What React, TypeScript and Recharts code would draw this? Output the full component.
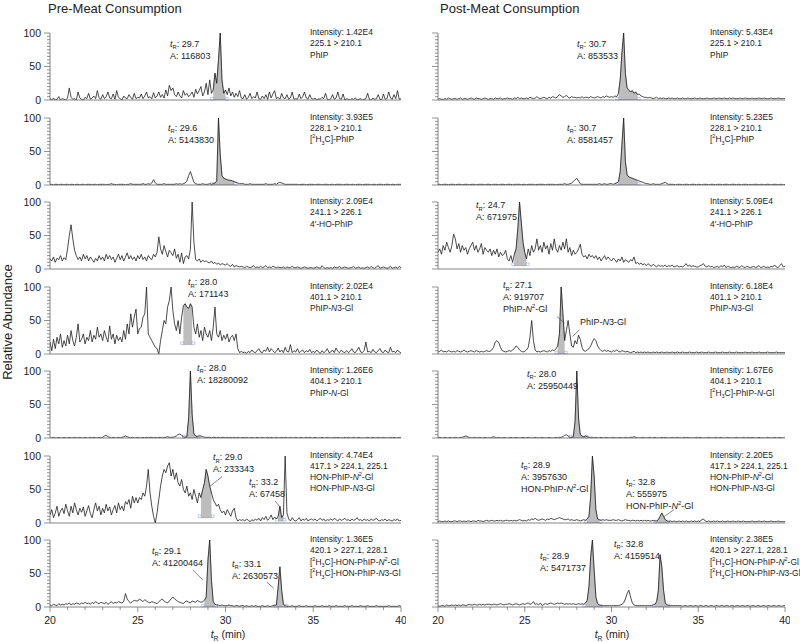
import React from 'react';
import { ComposedChart, Line, Area, XAxis, YAxis, ReferenceLine, ReferenceArea } from 'recharts';

const FONT = '"Liberation Sans", Arial, sans-serif';

// sampling grid: 20.0 .. 40.0 min, 0.1 min step
const TIMES: number[] = Array.from({ length: 201 }, (_, i) => Math.round((20 + i * 0.1) * 10) / 10);
const X_TICKS = [20, 21, 22, 23, 24, 25, 26, 27, 28, 29, 30, 31, 32, 33, 34, 35, 36, 37, 38, 39, 40];
const Y_TICKS = [0, 5, 10, 15, 20, 25, 30, 35, 40, 45, 50, 55, 60, 65, 70, 75, 80, 85, 90, 95, 100];

// ---------- Pre-Meat traces (relative abundance, %) ----------
const PRE_PHIP = [
  2,0,3,0,1,5,0,2,1,0, 3,18,4,1,2,0,12,3,1,0, 4,2,10,1,3,6,2,14,3,1, 8,2,5,12,3,2,9,1,14,4,
  2,0,6,3,2,8,4,1,10,2, 4,3,9,2,6,12,3,5,2,11, 3,6,12,4,8,3,15,6,22,14, 18,8,5,12,6,3,14,7,10,5,
  8,12,4,16,9,14,20,6,12,25, 8,30,10,15,40,25,60,100,30,10, 15,8,18,6,12,4,10,5,14,3, 2,8,1,4,10,2,5,3,12,2,
  1,6,2,8,1,12,3,9,14,2, 4,1,10,3,2,8,1,3,12,1, 2,1,9,2,5,12,3,1,8,2, 1,3,0,2,1,4,2,10,1,0,
  2,8,1,3,12,2,1,9,0,2, 1,0,2,1,3,0,1,2,0,1, 2,10,1,0,3,1,2,8,1,0, 9,1,2,12,3,1,8,2,14,1, 2,
];
const PRE_D3PHIP = [
  1,1,0,1,1,0,1,1,0,1, 1,0,1,1,0,1,1,0,1,1, 0,1,1,1,0,1,1,0,1,1, 1,1,0,1,1,2,1,1,0,1,
  1,1,1,0,1,1,2,1,1,1, 1,1,1,2,1,1,2,1,3,8, 3,1,1,1,1,2,1,1,1,1, 1,1,2,1,2,1,2,3,6,14,
  20,12,4,2,1,1,1,2,1,1, 1,2,1,2,3,6,100,45,14,10, 9,8,7,7,6,5,4,3,2,2, 2,1,1,1,2,1,1,1,1,1,
  1,1,1,2,1,1,1,1,2,1, 3,4,3,2,1,1,1,1,1,1, 1,1,0,1,1,1,0,1,1,1, 1,0,1,1,1,0,1,1,1,0,
  1,1,0,1,1,1,1,0,1,1, 1,0,1,1,0,1,1,1,0,1, 1,1,1,0,1,1,0,1,1,1, 0,1,1,1,0,1,1,0,1,1, 1,
];
const PRE_HO = [
  15,12,18,10,16,14,20,12,17,14, 30,50,66,45,28,20,14,18,12,22, 15,20,12,18,14,10,16,12,20,14, 18,12,22,15,20,14,18,10,16,22,
  14,20,12,18,24,15,20,14,18,12, 20,15,22,14,18,12,20,16,14,22, 18,25,48,30,22,35,26,18,28,24, 20,30,16,22,10,24,8,18,20,15,
  30,100,40,14,12,15,10,13,11,12, 10,9,12,8,10,7,9,6,8,7, 6,8,5,4,7,3,5,4,3,4, 3,2,4,3,2,3,5,2,3,2,
  4,2,3,5,2,3,2,4,3,2, 3,2,2,3,1,3,2,2,4,2, 2,3,2,1,2,3,2,1,2,2, 1,2,3,2,1,5,2,1,2,1,
  2,1,3,2,2,4,1,2,3,2, 1,2,2,4,1,2,3,1,2,1, 2,3,1,4,2,1,3,5,1,2, 3,2,1,2,4,1,2,3,1,4, 2,
];
const PRE_N3 = [
  18,5,22,8,25,15,30,10,20,12, 28,15,35,20,12,25,45,18,22,30, 15,25,20,35,18,28,22,40,25,30, 20,35,25,18,42,22,30,15,28,20,
  25,18,35,22,45,30,60,40,55,67, 30,38,40,55,60,100,30,25,20,15, 10,8,0,20,35,50,45,70,80,100, 65,45,35,50,30,55,72,75,70,68,
  75,70,40,30,45,25,35,20,40,30, 25,35,20,40,70,30,25,35,20,28, 22,30,18,25,28,20,30,8,2,4, 2,3,1,4,2,6,3,2,5,8,
  3,2,6,4,10,3,8,5,2,4, 9,3,6,2,10,4,3,14,2,5, 3,8,2,4,6,2,5,3,7,2, 4,2,6,3,1,5,2,4,8,2,
  3,6,2,9,4,2,6,3,2,5, 2,4,8,3,2,6,10,3,2,5, 18,3,4,2,7,3,2,5,8,3, 2,6,3,2,10,3,4,2,6,3, 2,
];
const PRE_NGL = [
  0,0,1,0,0,1,0,0,1,0, 0,1,0,0,1,0,0,1,0,0, 1,0,0,1,0,1,0,0,1,0, 1,3,4,2,1,0,1,0,0,1,
  0,1,2,3,2,1,0,1,0,0, 1,0,0,1,0,1,0,1,1,0, 1,0,1,1,0,1,1,2,1,1, 1,2,3,5,6,4,2,1,2,30,
  100,35,6,3,2,3,3,2,1,1, 1,1,0,1,1,0,1,0,1,1, 0,1,0,1,0,1,0,1,0,0, 1,0,1,0,0,1,0,0,1,0,
  0,1,0,0,1,0,1,0,0,1, 0,0,1,0,1,0,0,1,0,0, 1,0,0,1,0,0,1,0,1,0, 0,1,0,0,0,1,0,0,1,0,
  0,0,1,0,1,0,0,0,1,0, 1,0,0,1,0,0,1,0,0,0, 0,1,0,0,1,0,0,1,0,0, 1,0,0,0,1,0,1,0,0,1, 0,
];
const PRE_HON = [
  12,20,8,15,25,10,18,22,14,28, 18,10,25,15,30,20,12,22,16,24, 10,18,26,14,8,20,30,18,25,12, 22,15,28,18,24,12,20,26,15,30,
  20,25,18,32,28,35,22,40,30,38, 30,38,35,45,40,55,80,45,25,10, 0,15,35,55,70,80,75,85,90,70, 80,65,75,60,55,65,50,45,55,40,
  45,35,50,40,30,45,38,50,60,80, 70,55,45,35,30,25,28,20,15,18, 12,20,15,10,18,22,8,3,5,4, 5,3,6,4,2,5,3,6,4,7,
  3,8,5,10,4,7,12,5,9,6, 10,25,8,12,100,15,6,3,8,4, 3,5,8,3,6,4,7,3,5,6, 4,6,3,5,7,4,6,3,5,4,
  6,4,7,5,3,6,4,5,7,4, 5,3,6,4,5,8,4,5,3,6, 4,5,3,6,4,5,7,4,3,5, 4,6,3,5,4,3,5,4,6,3, 4,
];
const PRE_D3HON = [
  3,2,4,3,2,5,3,4,3,5, 4,6,3,5,4,6,5,4,6,5, 7,5,6,4,7,5,8,6,5,7, 6,5,7,4,6,8,5,7,6,8,
  7,6,8,20,12,8,6,8,10,9, 9,12,10,8,11,9,7,6,8,7, 6,5,8,10,12,9,7,6,9,12, 15,12,10,8,7,6,5,8,9,7,
  6,9,8,7,10,8,7,8,10,15, 70,100,40,8,4,3,3,2,3,2, 2,2,3,2,2,1,2,2,1,2, 2,1,2,1,1,2,1,2,1,1,
  1,2,1,1,2,1,1,2,2,3, 30,60,25,4,2,1,1,1,2,1, 1,1,2,1,1,1,2,1,1,1, 1,2,1,1,1,2,1,1,1,2,
  1,1,1,2,1,1,1,1,2,1, 1,1,2,1,1,1,1,2,1,1, 1,2,1,1,1,1,2,1,1,1, 1,1,1,2,1,1,1,1,1,2, 1,
];

// ---------- Post-Meat traces ----------
const POST_PHIP = [
  1,2,1,1,2,1,3,2,1,2, 2,1,2,3,1,2,2,1,2,3, 2,1,3,2,2,1,2,3,2,1, 2,2,1,3,2,2,3,1,2,2,
  3,2,2,1,3,2,4,2,3,2, 2,3,2,4,3,2,3,5,3,2, 3,4,3,2,4,3,5,4,3,5, 8,6,4,5,7,4,3,5,4,4,
  3,4,3,5,3,4,4,3,5,4, 3,4,5,4,3,5,4,6,5,4, 5,4,6,5,10,30,70,100,40,18, 15,12,14,10,12,8,9,6,5,4,
  4,3,4,3,2,3,4,2,3,2, 3,2,2,3,2,3,2,2,3,2, 2,3,2,2,3,2,2,2,3,2, 2,3,2,2,2,3,2,2,2,3,
  2,2,3,2,2,3,2,2,3,2, 3,2,2,2,3,2,2,3,2,2, 2,3,2,2,2,3,2,2,3,2, 2,2,3,2,2,2,3,2,2,2, 2,
];
const POST_D3PHIP = [
  1,1,0,1,1,1,0,1,1,1, 0,1,1,1,0,1,1,1,0,1, 1,1,0,1,1,1,1,0,1,1, 1,0,1,1,1,0,1,1,1,0,
  1,1,1,0,1,1,1,1,0,1, 1,0,1,1,1,1,0,1,1,1, 1,1,0,1,1,1,1,1,0,1, 1,1,1,2,1,1,2,3,5,8,
  10,6,2,1,1,1,1,1,1,1, 1,1,1,2,1,1,2,1,1,2, 2,1,2,3,5,20,60,100,35,15, 12,11,10,9,8,7,6,5,4,3,
  2,2,1,1,2,1,1,1,1,2, 3,4,2,1,1,1,1,0,1,1, 1,0,1,1,1,0,1,1,1,0, 1,1,0,1,1,1,0,1,1,1,
  0,1,1,1,0,1,1,1,0,1, 1,1,0,1,1,0,1,1,1,0, 1,0,1,1,1,0,1,1,0,1, 1,1,0,1,1,1,0,1,1,0, 1,
];
const POST_HO = [
  25,30,22,35,28,40,32,25,35,52, 45,30,38,25,35,28,32,22,30,35, 40,28,35,25,30,38,22,32,28,25, 30,20,28,22,30,18,25,20,22,28,
  15,12,20,10,22,30,60,100,70,40, 25,15,30,20,35,25,30,45,28,35, 25,40,30,35,22,38,28,45,30,25, 35,28,40,30,45,25,32,20,28,22,
  25,30,37,22,18,20,15,22,18,20, 16,20,14,18,12,16,20,14,18,15, 12,16,14,10,15,12,18,10,14,12, 10,14,12,18,8,10,7,9,6,8,
  5,8,6,4,7,5,3,6,4,5, 4,6,3,5,4,6,3,4,5,3, 4,3,5,8,4,6,3,5,4,3, 3,5,6,8,4,3,5,3,4,2,
  3,4,2,5,3,6,2,4,3,2, 3,2,4,3,2,5,3,2,4,3, 2,3,4,2,3,5,2,3,4,2, 3,2,4,3,6,3,2,5,8,3, 4,
];
const POST_N3 = [
  3,4,6,3,4,3,5,4,3,4, 3,5,4,3,4,6,4,3,4,5, 4,3,5,4,3,4,3,4,5,4, 4,6,10,18,20,17,10,5,4,3,
  4,5,4,6,8,12,10,6,4,3, 4,6,10,25,50,20,6,3,4,3, 4,5,4,3,5,4,6,5,8,12, 30,100,60,20,35,50,30,12,10,20,
  15,28,22,10,5,4,6,8,12,18, 23,20,12,8,5,4,6,4,5,4, 3,5,4,6,4,3,5,4,3,4, 3,2,3,4,2,3,2,3,2,3,
  2,3,2,2,3,2,3,2,2,3, 2,2,3,2,2,3,2,2,3,2, 2,3,2,2,2,3,2,2,2,3, 2,2,3,2,2,2,3,2,2,2,
  3,2,2,2,3,2,2,2,3,2, 2,2,3,2,2,2,2,3,2,2, 2,3,2,2,2,3,2,2,2,2, 3,2,2,2,2,3,2,2,2,2, 2,
];
const POST_NGL = [
  0,1,0,0,1,0,0,1,0,0, 1,0,0,1,1,2,3,2,1,0, 0,1,0,0,1,0,0,1,0,0, 0,1,2,1,0,1,0,0,1,0,
  0,0,1,0,0,1,0,0,0,1, 0,0,1,0,0,0,1,0,0,0, 1,0,0,0,1,0,0,0,1,0, 1,1,2,4,5,3,1,1,2,25,
  100,30,5,3,2,3,2,1,1,1, 0,1,0,0,1,0,0,1,0,0, 0,1,0,0,0,1,0,0,1,0, 0,1,1,2,1,0,0,0,1,0,
  0,0,1,0,0,1,0,0,0,1, 0,1,0,0,0,1,0,0,1,0, 0,0,1,0,1,0,0,0,0,1, 0,1,0,0,0,0,1,0,0,0,
  1,0,0,1,0,0,0,1,0,0, 0,0,1,0,0,0,1,0,0,1, 0,1,0,0,0,1,0,0,0,0, 1,0,0,0,1,0,0,1,0,0, 0,
];
const POST_HON = [
  2,3,2,2,3,2,3,2,2,3, 3,2,3,3,2,3,2,3,3,2, 3,3,2,4,3,3,2,3,4,3, 3,4,3,3,4,3,4,3,3,4,
  4,3,4,3,4,3,4,5,4,3, 4,3,5,4,6,5,7,5,4,5, 6,5,4,6,5,7,6,5,6,7, 8,7,6,5,5,6,4,5,4,4,
  5,4,3,4,5,4,6,10,40,100, 70,20,6,5,4,5,4,5,4,4, 4,5,4,4,5,4,3,4,5,4, 4,3,4,4,3,4,3,4,3,4,
  3,4,3,3,4,3,3,5,10,15, 10,5,3,2,3,2,3,2,2,3, 2,3,2,3,2,2,3,2,3,2, 3,2,5,6,3,2,3,2,2,3,
  2,3,2,2,3,2,2,3,2,2, 3,2,2,3,2,2,3,2,2,2, 2,3,2,2,2,3,2,2,3,2, 2,2,3,2,2,2,3,2,2,2, 2,
];
const POST_D3HON = [
  2,1,2,2,1,3,2,2,3,2, 3,2,3,2,3,3,2,3,4,3, 3,4,3,3,4,3,4,3,4,4, 4,3,4,4,3,4,5,4,3,4,
  4,5,4,3,4,5,4,3,4,5, 4,5,6,4,5,8,4,5,3,6, 2,4,5,4,5,6,5,4,5,6, 5,6,5,4,5,4,5,4,5,4,
  4,5,4,5,4,6,10,30,75,100, 55,15,5,3,2,2,2,2,2,2, 2,2,2,2,2,3,4,6,12,20, 25,15,6,3,2,2,2,2,2,2,
  2,2,2,2,3,4,8,25,78,60, 25,6,3,2,2,2,2,2,2,2, 2,1,2,2,1,2,2,1,2,2, 1,2,2,1,2,2,1,2,2,1,
  2,2,1,2,2,1,2,2,1,2, 2,1,2,2,1,2,2,1,2,2, 1,2,2,1,2,2,1,2,2,1, 2,2,1,2,2,1,2,2,1,2, 2,
];

// ---------- layout ----------
const ROW_TOP = [33, 117.5, 202, 286.5, 371, 455.5, 540];
const PLOT_H = 67;
const TR = (v: string) => `{i:t}{sub:R}: ${v}`;

type Peak = { from: number; to: number; base: number };
type Tag = { x: number; y: number; lines: string[] };
type Seg = [{ x: number; y: number }, { x: number; y: number }];
type Cfg = { col: number; row: number; values: number[]; peaks: Peak[]; info: string[]; tags: Tag[]; leaders: Seg[] };

const PANELS: Cfg[] = [
  { col: 0, row: 0, values: PRE_PHIP, peaks: [{ from: 29.3, to: 30.0, base: 0 }],
    info: ['Intensity: 1.42E4', '225.1 > 210.1', 'PhIP'],
    tags: [{ x: 170, y: 46.5, lines: [TR('29.7'), 'A: 116803'] }], leaders: [] },
  { col: 1, row: 0, values: POST_PHIP, peaks: [{ from: 30.4, to: 31.5, base: 0 }],
    info: ['Intensity: 5.43E4', '225.1 > 210.1', 'PhIP'],
    tags: [{ x: 577, y: 46.5, lines: [TR('30.7'), 'A: 853533'] }], leaders: [] },
  { col: 0, row: 1, values: PRE_D3PHIP, peaks: [{ from: 29.3, to: 30.5, base: 0 }],
    info: ['Intensity: 3.93E5', '228.1 > 210.1', '[{sup:2}H{sub:3}C]-PhIP'],
    tags: [{ x: 168, y: 130.5, lines: [TR('29.6'), 'A: 5143830'] }], leaders: [] },
  { col: 1, row: 1, values: POST_D3PHIP, peaks: [{ from: 30.4, to: 31.5, base: 0 }],
    info: ['Intensity: 5.23E5', '228.1 > 210.1', '[{sup:2}H{sub:3}C]-PhIP'],
    tags: [{ x: 567, y: 130.5, lines: [TR('30.7'), 'A: 8581457'] }], leaders: [] },
  { col: 0, row: 2, values: PRE_HO, peaks: [],
    info: ['Intensity: 2.09E4', '241.1 > 226.1', "4'-HO-PhIP"], tags: [], leaders: [] },
  { col: 1, row: 2, values: POST_HO, peaks: [{ from: 24.4, to: 25.1, base: 5 }],
    info: ['Intensity: 5.09E4', '241.1 > 226.1', "4'-HO-PhIP"],
    tags: [{ x: 476, y: 208, lines: [TR('24.7'), 'A: 671975'] }], leaders: [] },
  { col: 0, row: 3, values: PRE_N3, peaks: [{ from: 27.6, to: 28.1, base: 14 }],
    info: ['Intensity: 2.02E4', '401.1 > 210.1', 'PhIP-{i:N}3-Gl'],
    tags: [{ x: 188, y: 285, lines: [TR('28.0'), 'A: 171143'] }], leaders: [] },
  { col: 1, row: 3, values: POST_N3, peaks: [{ from: 26.9, to: 27.3, base: 0 }],
    info: ['Intensity: 6.18E4', '401.1 > 210.1', 'PhIP-{i:N}3-Gl'],
    tags: [
      { x: 503, y: 288, lines: [TR('27.1'), 'A: 919707', 'PhIP-{i:N}{sup:2}-Gl'] },
      { x: 580, y: 325, lines: ['PhIP-{i:N}3-Gl'] },
    ],
    leaders: [
      [{ x: 26.85, y: 56 }, { x: 27.3, y: 46 }],
      [{ x: 28.15, y: 36 }, { x: 27.75, y: 26 }],
    ] },
  { col: 0, row: 4, values: PRE_NGL, peaks: [{ from: 27.7, to: 28.4, base: 0 }],
    info: ['Intensity: 1.26E6', '404.1 > 210.1', 'PhIP-{i:N}-Gl'],
    tags: [{ x: 197, y: 370.5, lines: [TR('28.0'), 'A: 18280092'] }], leaders: [] },
  { col: 1, row: 4, values: POST_NGL, peaks: [{ from: 27.7, to: 28.5, base: 0 }],
    info: ['Intensity: 1.67E6', '404.1 > 210.1', '[{sup:2}H{sub:3}C]-PhIP-{i:N}-Gl'],
    tags: [{ x: 527, y: 376.5, lines: [TR('28.0'), 'A: 25950449'] }], leaders: [] },
  { col: 0, row: 5, values: PRE_HON, peaks: [{ from: 28.6, to: 29.2, base: 8 }, { from: 33.0, to: 33.3, base: 3 }],
    info: ['Intensity: 4.74E4', '417.1 > 224.1, 225.1', 'HON-PhIP-{i:N}{sup:2}-Gl', 'HON-PhIP-{i:N}3-Gl'],
    tags: [
      { x: 213, y: 460, lines: [TR('29.0'), 'A: 233343'] },
      { x: 249, y: 485, lines: [TR('33.2'), 'A: 67458'] },
    ],
    leaders: [
      [{ x: 29.8, y: 69 }, { x: 29.12, y: 55 }],
      [{ x: 32.82, y: 33 }, { x: 33.1, y: 24 }],
    ] },
  { col: 1, row: 5, values: POST_HON, peaks: [{ from: 28.6, to: 29.3, base: 0 }, { from: 32.6, to: 33.2, base: 0 }],
    info: ['Intensity: 2.20E5', '417.1 > 224.1, 225.1', 'HON-PhIP-{i:N}{sup:2}-Gl', 'HON-PhIP-{i:N}3-Gl'],
    tags: [
      { x: 521, y: 467.5, lines: [TR('28.9'), 'A: 3957630', 'HON-PhIP-{i:N}{sup:2}-Gl'] },
      { x: 626, y: 484.5, lines: [TR('32.8'), 'A: 555975', 'HON-PhIP-{i:N}{sup:2}-Gl'] },
    ],
    leaders: [[{ x: 33.6, y: 20 }, { x: 33.0, y: 9 }]] },
  { col: 0, row: 6, values: PRE_D3HON, peaks: [{ from: 28.8, to: 29.4, base: 0 }, { from: 32.9, to: 33.4, base: 0 }],
    info: ['Intensity: 1.36E5', '420.1 > 227.1, 228.1', '[{sup:2}H{sub:3}C]-HON-PhIP-{i:N}{sup:2}-Gl', '[{sup:2}H{sub:3}C]-HON-PhIP-{i:N}3-Gl'],
    tags: [
      { x: 152, y: 553.5, lines: [TR('29.1'), 'A: 41200464'] },
      { x: 232, y: 566.5, lines: [TR('33.1'), 'A: 2630573'] },
    ],
    leaders: [
      [{ x: 28.15, y: 55 }, { x: 28.72, y: 40 }],
      [{ x: 32.36, y: 37 }, { x: 32.75, y: 28 }],
    ] },
  { col: 1, row: 6, values: POST_D3HON, peaks: [{ from: 28.5, to: 29.3, base: 0 }, { from: 32.5, to: 33.2, base: 0 }],
    info: ['Intensity: 2.38E5', '420.1 > 227.1, 228.1', '[{sup:2}H{sub:3}C]-HON-PhIP-{i:N}{sup:2}-Gl', '[{sup:2}H{sub:3}C]-HON-PhIP-{i:N}3-Gl'],
    tags: [
      { x: 540, y: 558.5, lines: [TR('28.9'), 'A: 5471737'] },
      { x: 614, y: 546.5, lines: [TR('32.8'), 'A: 4159514'] },
    ],
    leaders: [] },
];

function buildTable(values: number[], peaks: Peak[]) {
  return TIMES.map((t, i) => {
    const v = values[i];
    const pk = peaks.find((p) => t >= p.from - 1e-6 && t <= p.to + 1e-6);
    return { t, v, shade: pk ? [pk.base, Math.max(v, pk.base)] : null };
  });
}

function Rich({ x, y, text, size = 9.6, anchor = 'start', sx = 1 }: { x: number; y: number; text: string; size?: number; anchor?: string; sx?: number }) {
  const parts = text.split(/(\{[a-z]+:[^}]*\})/).filter((p) => p.length > 0);
  let cur = 0;
  const spans = parts.map((p, i) => {
    const m = p.match(/^\{([a-z]+):([^}]*)\}$/);
    const kind = m ? m[1] : 'n';
    const content = m ? m[2] : p;
    const target = kind === 'sub' ? size * 0.3 : kind === 'sup' ? -size * 0.4 : 0;
    const dy = target - cur;
    cur = target;
    const small = kind === 'sub' || kind === 'sup';
    return (
      <tspan key={i} dy={dy} fontSize={small ? size * 0.65 : size} fontStyle={kind === 'i' ? 'italic' : 'normal'}>
        {content}
      </tspan>
    );
  });
  return (
    <g transform={`translate(${x},${y}) scale(${sx},1)`}>
      <text x={0} y={0} fontSize={size} fontFamily={FONT} fill="#222" textAnchor={anchor as any}>
        {spans}
      </text>
    </g>
  );
}

const makeYTick = (showLabel: boolean) => (props: any) => {
  const { x, y, payload } = props;
  const v = payload.value;
  const major = v % 50 === 0;
  return (
    <g>
      <line x1={x - (major ? 6 : 3)} x2={x} y1={y} y2={y} stroke="#666" strokeWidth={0.7} />
      {showLabel && major && (
        <text x={x - 9} y={y + 3.5} textAnchor="end" fontSize={10.5} fontFamily={FONT} fill="#222">
          {v}
        </text>
      )}
    </g>
  );
};
const YTickL = makeYTick(true);
const YTickR = makeYTick(false);

const XTick = (props: any) => {
  const { x, y, payload } = props;
  const v = payload.value;
  const major = v % 5 === 0;
  return (
    <g>
      <line x1={x} x2={x} y1={y} y2={y + (major ? 5 : 3)} stroke="#666" strokeWidth={0.7} />
      {major && (
        <text x={x} y={y + 17} textAnchor="middle" fontSize={10.5} fontFamily={FONT} fill="#222">
          {v}
        </text>
      )}
    </g>
  );
};

function Panel({ cfg }: { cfg: Cfg }) {
  const bottom = cfg.row === 6;
  const left = cfg.col === 0 ? 0 : 388;
  const width = cfg.col === 0 ? 406 : 402;
  const top = ROW_TOP[cfg.row] - 5;
  const xh = bottom ? 30 : 1;
  const mb = bottom ? 0 : 6;
  const height = 5 + PLOT_H + xh + mb;
  const data = buildTable(cfg.values, cfg.peaks);
  return (
    <div style={{ position: 'absolute', left, top, width, height }}>
      <ComposedChart width={width} height={height} data={data} margin={{ top: 5, right: 5, bottom: mb, left: 0 }}>
        <XAxis
          dataKey="t"
          type="number"
          domain={[20, 40]}
          ticks={X_TICKS}
          interval={0}
          allowDataOverflow
          height={xh}
          tick={bottom ? XTick : false}
          tickLine={false}
          tickSize={0}
          tickMargin={0}
          axisLine={{ stroke: '#666', strokeWidth: 0.8 }}
        />
        <YAxis
          type="number"
          domain={[0, 100]}
          ticks={Y_TICKS}
          interval={0}
          allowDataOverflow
          width={50}
          tick={cfg.col === 0 ? YTickL : YTickR}
          tickLine={false}
          tickSize={0}
          tickMargin={0}
          axisLine={{ stroke: '#666', strokeWidth: 0.8 }}
        />
        {cfg.peaks.length > 0 && (
          <Area
            dataKey="shade"
            type="linear"
            fill="#bdbdbd"
            fillOpacity={1}
            stroke="#8a8a8a"
            strokeWidth={0.5}
            dot={false}
            activeDot={false}
            isAnimationActive={false}
          />
        )}
        {cfg.peaks.map((p, i) => (
          <ReferenceArea key={`a${i}`} x1={p.from - 0.15} x2={p.from + 0.02} y1={p.base} y2={p.base + 4} fill="none" stroke="#9aa6dc" strokeWidth={0.6} ifOverflow="visible" />
        ))}
        {cfg.peaks.map((p, i) => (
          <ReferenceArea key={`b${i}`} x1={p.to - 0.02} x2={p.to + 0.15} y1={p.base} y2={p.base + 4} fill="none" stroke="#9aa6dc" strokeWidth={0.6} ifOverflow="visible" />
        ))}
        <Line dataKey="v" type="linear" stroke="#1e1e1e" strokeWidth={0.8} dot={false} activeDot={false} isAnimationActive={false} />
        {cfg.leaders.map((s, i) => (
          <ReferenceLine key={`l${i}`} segment={s} stroke="#555" strokeWidth={0.7} ifOverflow="visible" />
        ))}
      </ComposedChart>
    </div>
  );
}

export default function App() {
  return (
    <div style={{ position: 'absolute', left: 0, top: 0, width: 800, height: 642, background: '#fff', overflow: 'hidden' }}>
      {PANELS.map((cfg, i) => (
        <Panel key={i} cfg={cfg} />
      ))}
      <svg width={800} height={642} style={{ position: 'absolute', left: 0, top: 0, pointerEvents: 'none' }}>
        <text x={48} y={13} fontSize={13} fontFamily={FONT} fill="#222">Pre-Meat Consumption</text>
        <text x={440} y={13} fontSize={13} fontFamily={FONT} fill="#222">Post-Meat Consumption</text>
        <text transform="translate(12,322) rotate(-90)" textAnchor="middle" fontSize={13} fontFamily={FONT} fill="#222">
          Relative Abundance
        </text>
        <Rich x={228} y={638} text="{i:t}{sub:R} (min)" size={10.5} anchor="middle" />
        <Rich x={612} y={638} text="{i:t}{sub:R} (min)" size={10.5} anchor="middle" />
        {PANELS.map((cfg, i) => (
          <g key={i}>
            {cfg.info.map((line, j) => (
              <Rich key={`i${j}`} x={cfg.col === 0 ? 310 : 710} y={ROW_TOP[cfg.row] + 2 + j * 11.3} text={line} sx={0.88} />
            ))}
            {cfg.tags.map((tg, k) =>
              tg.lines.map((line, j) => <Rich key={`t${k}-${j}`} x={tg.x} y={tg.y + j * 12} text={line} sx={0.94} />)
            )}
          </g>
        ))}
      </svg>
    </div>
  );
}
